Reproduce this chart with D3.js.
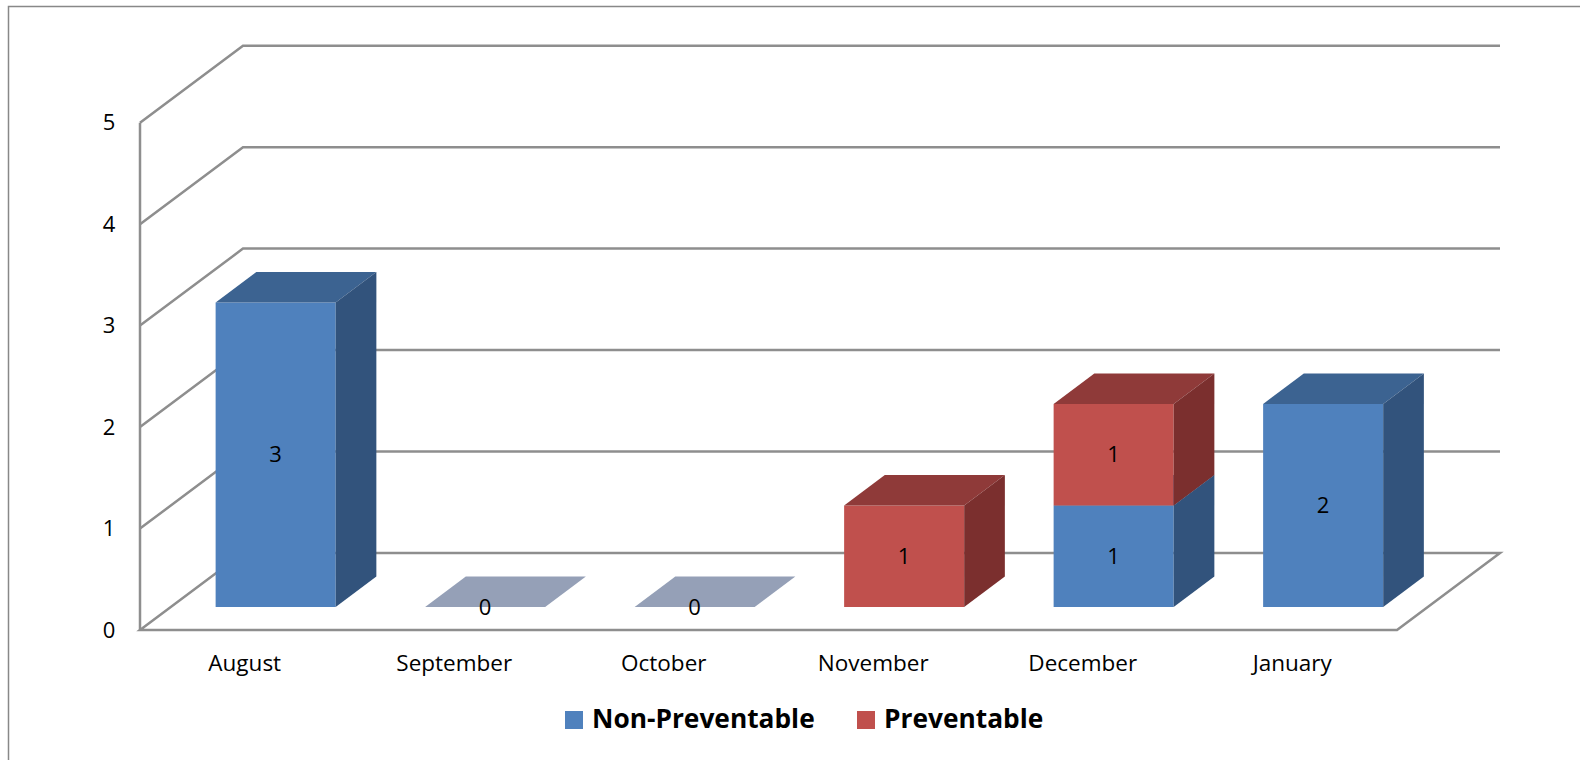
<!DOCTYPE html>
<html>
<head>
<meta charset="utf-8">
<script src="https://cdn.jsdelivr.net/npm/d3@7"></script>
<style>
  body { margin: 0; background: #fff; }
  text { font-family: "Open Sans", "DejaVu Sans", sans-serif; fill: #000; }
</style>
</head>
<body>
<div id="chart"></div>
<script>
// chart data
var categories = ["August", "September", "October", "November", "December", "January"];
var nonPreventable = [3, 0, 0, 0, 1, 2];
var preventable = [0, 0, 0, 1, 1, 0];
var seriesNames = ["Non-Preventable", "Preventable"];
var yTicks = [0, 1, 2, 3, 4, 5];

var W = 1580, H = 760;
var colors = {
    "Non-Preventable": { front: "#4F81BD", top: "#3C6391", side: "#32537C" },
    "Preventable": { front: "#C0504D", top: "#8F3A39", side: "#7B2F2E" }
};
var zeroColor = "#95A0B7";
var gridColor = "#8E8E8E";

// oblique depth of the whole plot box
var depth = { dx: 103, dy: -77 };
var barDepth = [0.3, 0.695];   // bars sit between these depth fractions

var x = d3.scaleBand()
    .domain(categories)
    .range([140, 1397])
    .paddingInner(0.427)
    .paddingOuter(0.2135);
// label band (no padding) for category text
var xLab = d3.scaleBand().domain(categories).range([140, 1397]);

var y = d3.scaleLinear()
    .domain([0, 5])
    .range([630, 122.7]);

function pt(px, py, t) { return [px + t * depth.dx, py + t * depth.dy]; }
function poly(points) { return "M" + points.map(function (p) { return p.join(","); }).join("L") + "Z"; }

var svg = d3.select("#chart").append("svg")
    .attr("width", W)
    .attr("height", H);

// outer frame (right and bottom fall outside the picture)
svg.append("rect")
    .attr("x", 8.5).attr("y", 6.5)
    .attr("width", 1700).attr("height", 900)
    .attr("fill", "#fff")
    .attr("stroke", "#888")
    .attr("stroke-width", 1.5);

var grid = svg.append("g")
    .attr("fill", "none")
    .attr("stroke", gridColor)
    .attr("stroke-width", 2.5);

var x0 = x.range()[0], x1 = x.range()[1];

// back wall gridlines + left wall diagonals
yTicks.forEach(function (t) {
    var f = [x0, y(t)];
    var b = pt(x0, y(t), 1);
    var bEnd = pt(x1, y(t), 1);
    if (t === 0) {
        grid.append("path").attr("d", poly([f, [x1, y(t)], bEnd, b]));
    } else {
        grid.append("path").attr("d", "M" + f.join(",") + "L" + b.join(",") + "L" + bEnd.join(","));
    }
});
// front vertical axis
grid.append("line")
    .attr("x1", x0).attr("x2", x0)
    .attr("y1", y(0)).attr("y2", y(5));

// y tick labels
svg.append("g").selectAll("text")
    .data(yTicks)
    .enter().append("text")
    .attr("x", 109)
    .attr("y", function (d) { return y(d); })
    .attr("dy", "0.35em")
    .attr("text-anchor", "middle")
    .style("font-size", "22px")
    .text(function (d) { return d; });

// category labels
svg.append("g").selectAll("text")
    .data(categories)
    .enter().append("text")
    .attr("x", function (d) { return xLab(d) + xLab.bandwidth() / 2; })
    .attr("y", 671)
    .attr("text-anchor", "middle")
    .style("font-size", "22.5px")
    .text(function (d) { return d; });

// stacked data
var rows = categories.map(function (c, i) {
    return { cat: c, "Non-Preventable": nonPreventable[i], "Preventable": preventable[i] };
});
var stack = d3.stack().keys(seriesNames)(rows);

var bars = svg.append("g");
var labels = [];

rows.forEach(function (row, i) {
    var bx0 = x(row.cat), bx1 = bx0 + x.bandwidth();
    var ta = barDepth[0], tb = barDepth[1];
    var total = row["Non-Preventable"] + row["Preventable"];
    if (total === 0) {
        var yy = y(0);
        bars.append("path")
            .attr("d", poly([pt(bx0, yy, ta), pt(bx1, yy, ta), pt(bx1, yy, tb), pt(bx0, yy, tb)]))
            .attr("fill", zeroColor);
        var c = pt((bx0 + bx1) / 2, yy, ta);
        labels.push({ x: c[0], y: c[1], v: 0 });
        return;
    }
    stack.forEach(function (s) {
        var seg = s[i];
        if (seg[1] - seg[0] === 0) return;
        var col = colors[s.key];
        var yb = y(seg[0]), yt = y(seg[1]);
        // front face
        bars.append("path")
            .attr("d", poly([pt(bx0, yb, ta), pt(bx1, yb, ta), pt(bx1, yt, ta), pt(bx0, yt, ta)]))
            .attr("fill", col.front);
        // top face
        bars.append("path")
            .attr("d", poly([pt(bx0, yt, ta), pt(bx1, yt, ta), pt(bx1, yt, tb), pt(bx0, yt, tb)]))
            .attr("fill", col.top);
        // side face
        bars.append("path")
            .attr("d", poly([pt(bx1, yb, ta), pt(bx1, yb, tb), pt(bx1, yt, tb), pt(bx1, yt, ta)]))
            .attr("fill", col.side);
        var c = pt((bx0 + bx1) / 2, (yb + yt) / 2, ta);
        labels.push({ x: c[0], y: c[1], v: seg[1] - seg[0] });
    });
});

// data labels
svg.append("g").selectAll("text")
    .data(labels)
    .enter().append("text")
    .attr("x", function (d) { return d.x; })
    .attr("y", function (d) { return d.y; })
    .attr("dy", "0.35em")
    .attr("text-anchor", "middle")
    .style("font-size", "22px")
    .text(function (d) { return d.v; });

// legend
var legendX = [565, 857];
var legend = svg.append("g").selectAll("g")
    .data(seriesNames)
    .enter().append("g")
    .attr("transform", function (d, i) { return "translate(" + legendX[i] + ",711)"; });

legend.append("rect")
    .attr("width", 18).attr("height", 18)
    .attr("fill", function (d) { return colors[d].front; });

legend.append("text")
    .attr("x", 27)
    .attr("y", 17)
    .style("font-size", "26.3px")
    .style("font-weight", "bold")
    .text(function (d) { return d; });
</script>
</body>
</html>
